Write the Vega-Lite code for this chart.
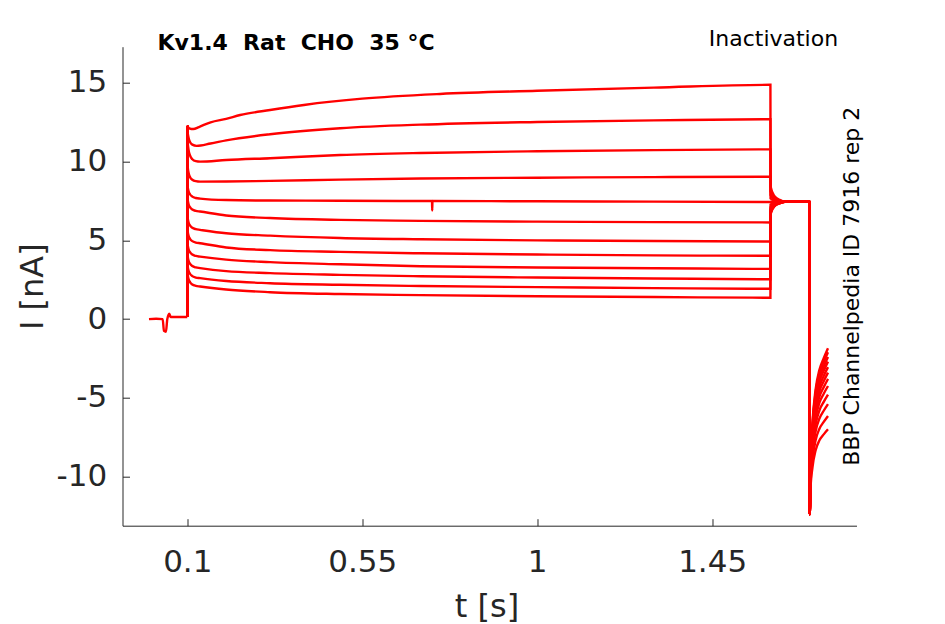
{
  "$schema": "https://vega.github.io/schema/vega-lite/v6.json",
  "width": 734, "height": 479,
  "autosize": "none",
  "padding": {"left": 122.5, "top": 46.7, "right": 88.3, "bottom": 98},
  "background": "white",
  "config": {"view": {"stroke": null}, "font": "DejaVu Sans", "axis": {"grid": false}},
  "title": {"text": "Kv1.4\u00a0 Rat\u00a0 CHO\u00a0 35 °C", "anchor": "start", "frame": "group", "dx": 35, "offset": -43.7, "baseline": "alphabetic", "fontSize": 22, "fontWeight": "bold", "font": "DejaVu Sans", "color": "#000000"},
  "data": {"values": [
    {"s":0,"t":0.0015,"I":0},{"s":0,"t":0.02,"I":0.02},{"s":0,"t":0.0367,"I":0},{"s":0,"t":0.04,"I":-0.75},{"s":0,"t":0.0451,"I":-0.8},{"s":0,"t":0.0486,"I":0},{"s":0,"t":0.0537,"I":0.35},{"s":0,"t":0.0573,"I":0.13},{"s":0,"t":0.0999,"I":0.13},

    {"s":1,"t":0.0999,"I":0.13},{"s":1,"t":0.1003,"I":12.22},{"s":1,"t":0.105,"I":12.12},{"s":1,"t":0.1155,"I":12.07},{"s":1,"t":0.13,"I":12.2},{"s":1,"t":0.16,"I":12.5},{"s":1,"t":0.2,"I":12.72},{"s":1,"t":0.236,"I":12.96},{"s":1,"t":0.313,"I":13.28},{"s":1,"t":0.4,"I":13.6},{"s":1,"t":0.55,"I":14.0},{"s":1,"t":0.75,"I":14.3},{"s":1,"t":1.0,"I":14.5},{"s":1,"t":1.3,"I":14.7},{"s":1,"t":1.5999,"I":14.88},
    {"s":1,"t":1.6003,"I":8.42},{"s":1,"t":1.61,"I":7.82},{"s":1,"t":1.625,"I":7.56},{"s":1,"t":1.637,"I":7.45},{"s":1,"t":1.7008,"I":7.45},{"s":1,"t":1.7013,"I":-12.4},{"s":1,"t":1.703,"I":-9.24},{"s":1,"t":1.708,"I":-6.6},{"s":1,"t":1.716,"I":-4.49},{"s":1,"t":1.726,"I":-3.22},{"s":1,"t":1.737,"I":-2.48},{"s":1,"t":1.748,"I":-1.85},

    {"s":2,"t":0.0999,"I":0.13},{"s":2,"t":0.1003,"I":12.22},{"s":2,"t":0.101,"I":11.9},{"s":2,"t":0.103,"I":11.55},{"s":2,"t":0.107,"I":11.25},{"s":2,"t":0.113,"I":11.08},{"s":2,"t":0.124,"I":11.0},{"s":2,"t":0.16,"I":11.15},{"s":2,"t":0.2,"I":11.35},{"s":2,"t":0.313,"I":11.74},{"s":2,"t":0.493,"I":12.12},{"s":2,"t":0.7,"I":12.35},{"s":2,"t":1.0,"I":12.52},{"s":2,"t":1.3,"I":12.62},{"s":2,"t":1.5999,"I":12.69},
    {"s":2,"t":1.6003,"I":8.13},{"s":2,"t":1.61,"I":7.71},{"s":2,"t":1.625,"I":7.53},{"s":2,"t":1.637,"I":7.45},{"s":2,"t":1.7008,"I":7.45},{"s":2,"t":1.7013,"I":-12.4},{"s":2,"t":1.703,"I":-9.31},{"s":2,"t":1.708,"I":-6.74},{"s":2,"t":1.716,"I":-4.68},{"s":2,"t":1.726,"I":-3.44},{"s":2,"t":1.737,"I":-2.72},{"s":2,"t":1.748,"I":-2.1},

    {"s":3,"t":0.0999,"I":0.13},{"s":3,"t":0.1003,"I":12.22},{"s":3,"t":0.101,"I":11.3},{"s":3,"t":0.103,"I":10.8},{"s":3,"t":0.107,"I":10.4},{"s":3,"t":0.113,"I":10.15},{"s":3,"t":0.122,"I":10.03},{"s":3,"t":0.133,"I":10.0},{"s":3,"t":0.2,"I":10.1},{"s":3,"t":0.313,"I":10.22},{"s":3,"t":0.493,"I":10.42},{"s":3,"t":0.7,"I":10.55},{"s":3,"t":1.0,"I":10.66},{"s":3,"t":1.3,"I":10.73},{"s":3,"t":1.5999,"I":10.78},
    {"s":3,"t":1.6003,"I":7.88},{"s":3,"t":1.61,"I":7.62},{"s":3,"t":1.625,"I":7.5},{"s":3,"t":1.637,"I":7.45},{"s":3,"t":1.7008,"I":7.45},{"s":3,"t":1.7013,"I":-12.4},{"s":3,"t":1.703,"I":-9.4},{"s":3,"t":1.708,"I":-6.9},{"s":3,"t":1.716,"I":-4.9},{"s":3,"t":1.726,"I":-3.7},{"s":3,"t":1.737,"I":-3.0},{"s":3,"t":1.748,"I":-2.4},

    {"s":4,"t":0.0999,"I":0.13},{"s":4,"t":0.1003,"I":12.22},{"s":4,"t":0.101,"I":9.73},{"s":4,"t":0.103,"I":9.33},{"s":4,"t":0.107,"I":9.03},{"s":4,"t":0.113,"I":8.85},{"s":4,"t":0.122,"I":8.76},{"s":4,"t":0.133,"I":8.73},{"s":4,"t":0.2,"I":8.74},{"s":4,"t":0.313,"I":8.78},{"s":4,"t":0.493,"I":8.86},{"s":4,"t":0.7,"I":8.93},{"s":4,"t":1.0,"I":8.98},{"s":4,"t":1.3,"I":9.02},{"s":4,"t":1.5999,"I":9.04},
    {"s":4,"t":1.6003,"I":7.66},{"s":4,"t":1.61,"I":7.53},{"s":4,"t":1.625,"I":7.47},{"s":4,"t":1.637,"I":7.45},{"s":4,"t":1.7008,"I":7.45},{"s":4,"t":1.7013,"I":-12.4},{"s":4,"t":1.703,"I":-9.49},{"s":4,"t":1.708,"I":-7.07},{"s":4,"t":1.716,"I":-5.13},{"s":4,"t":1.726,"I":-3.96},{"s":4,"t":1.737,"I":-3.28},{"s":4,"t":1.748,"I":-2.7},

    {"s":5,"t":0.0999,"I":0.13},{"s":5,"t":0.1003,"I":12.22},{"s":5,"t":0.101,"I":8.45},{"s":5,"t":0.103,"I":8.15},{"s":5,"t":0.107,"I":7.93},{"s":5,"t":0.113,"I":7.78},{"s":5,"t":0.122,"I":7.69},{"s":5,"t":0.133,"I":7.65},{"s":5,"t":0.2,"I":7.56},{"s":5,"t":0.313,"I":7.53},{"s":5,"t":0.493,"I":7.52},{"s":5,"t":0.7,"I":7.5},{"s":5,"t":0.7295,"I":7.5},{"s":5,"t":0.73,"I":6.9},{"s":5,"t":0.7306,"I":7.5},{"s":5,"t":1.0,"I":7.48},{"s":5,"t":1.3,"I":7.46},{"s":5,"t":1.5999,"I":7.44},
    {"s":5,"t":1.6003,"I":7.45},{"s":5,"t":1.61,"I":7.45},{"s":5,"t":1.625,"I":7.45},{"s":5,"t":1.637,"I":7.45},{"s":5,"t":1.7008,"I":7.45},{"s":5,"t":1.7013,"I":-12.4},{"s":5,"t":1.703,"I":-9.6},{"s":5,"t":1.708,"I":-7.26},{"s":5,"t":1.716,"I":-5.39},{"s":5,"t":1.726,"I":-4.27},{"s":5,"t":1.737,"I":-3.61},{"s":5,"t":1.748,"I":-3.05},

    {"s":6,"t":0.0999,"I":0.13},{"s":6,"t":0.1003,"I":12.22},{"s":6,"t":0.101,"I":7.63},{"s":6,"t":0.103,"I":7.33},{"s":6,"t":0.107,"I":7.11},{"s":6,"t":0.113,"I":6.96},{"s":6,"t":0.122,"I":6.87},{"s":6,"t":0.133,"I":6.83},{"s":6,"t":0.2,"I":6.58},{"s":6,"t":0.313,"I":6.42},{"s":6,"t":0.493,"I":6.3},{"s":6,"t":0.7,"I":6.24},{"s":6,"t":1.0,"I":6.19},{"s":6,"t":1.3,"I":6.16},{"s":6,"t":1.5999,"I":6.14},
    {"s":6,"t":1.6003,"I":7.28},{"s":6,"t":1.61,"I":7.38},{"s":6,"t":1.625,"I":7.43},{"s":6,"t":1.637,"I":7.45},{"s":6,"t":1.7008,"I":7.45},{"s":6,"t":1.7013,"I":-12.4},{"s":6,"t":1.703,"I":-9.7},{"s":6,"t":1.708,"I":-7.45},{"s":6,"t":1.716,"I":-5.65},{"s":6,"t":1.726,"I":-4.57},{"s":6,"t":1.737,"I":-3.94},{"s":6,"t":1.748,"I":-3.4},

    {"s":7,"t":0.0999,"I":0.13},{"s":7,"t":0.1003,"I":12.22},{"s":7,"t":0.101,"I":6.47},{"s":7,"t":0.103,"I":6.17},{"s":7,"t":0.107,"I":5.95},{"s":7,"t":0.113,"I":5.8},{"s":7,"t":0.122,"I":5.71},{"s":7,"t":0.133,"I":5.67},{"s":7,"t":0.2,"I":5.45},{"s":7,"t":0.313,"I":5.3},{"s":7,"t":0.493,"I":5.15},{"s":7,"t":0.7,"I":5.07},{"s":7,"t":1.0,"I":5.0},{"s":7,"t":1.3,"I":4.96},{"s":7,"t":1.5999,"I":4.93},
    {"s":7,"t":1.6003,"I":7.12},{"s":7,"t":1.61,"I":7.32},{"s":7,"t":1.625,"I":7.41},{"s":7,"t":1.637,"I":7.45},{"s":7,"t":1.7008,"I":7.45},{"s":7,"t":1.7013,"I":-12.4},{"s":7,"t":1.703,"I":-9.82},{"s":7,"t":1.708,"I":-7.67},{"s":7,"t":1.716,"I":-5.95},{"s":7,"t":1.726,"I":-4.92},{"s":7,"t":1.737,"I":-4.32},{"s":7,"t":1.748,"I":-3.8},

    {"s":8,"t":0.0999,"I":0.13},{"s":8,"t":0.1003,"I":12.22},{"s":8,"t":0.101,"I":5.62},{"s":8,"t":0.103,"I":5.32},{"s":8,"t":0.107,"I":5.1},{"s":8,"t":0.113,"I":4.95},{"s":8,"t":0.122,"I":4.86},{"s":8,"t":0.133,"I":4.82},{"s":8,"t":0.2,"I":4.55},{"s":8,"t":0.313,"I":4.38},{"s":8,"t":0.493,"I":4.27},{"s":8,"t":0.7,"I":4.18},{"s":8,"t":1.0,"I":4.1},{"s":8,"t":1.3,"I":4.05},{"s":8,"t":1.5999,"I":4.02},
    {"s":8,"t":1.6003,"I":7.0},{"s":8,"t":1.61,"I":7.28},{"s":8,"t":1.625,"I":7.4},{"s":8,"t":1.637,"I":7.45},{"s":8,"t":1.7008,"I":7.45},{"s":8,"t":1.7013,"I":-12.4},{"s":8,"t":1.703,"I":-9.96},{"s":8,"t":1.708,"I":-7.92},{"s":8,"t":1.716,"I":-6.29},{"s":8,"t":1.726,"I":-5.31},{"s":8,"t":1.737,"I":-4.74},{"s":8,"t":1.748,"I":-4.25},

    {"s":9,"t":0.0999,"I":0.13},{"s":9,"t":0.1003,"I":12.22},{"s":9,"t":0.101,"I":4.77},{"s":9,"t":0.103,"I":4.47},{"s":9,"t":0.107,"I":4.25},{"s":9,"t":0.113,"I":4.1},{"s":9,"t":0.122,"I":4.01},{"s":9,"t":0.133,"I":3.97},{"s":9,"t":0.2,"I":3.78},{"s":9,"t":0.313,"I":3.62},{"s":9,"t":0.493,"I":3.48},{"s":9,"t":0.7,"I":3.36},{"s":9,"t":1.0,"I":3.28},{"s":9,"t":1.3,"I":3.23},{"s":9,"t":1.5999,"I":3.19},
    {"s":9,"t":1.6003,"I":6.9},{"s":9,"t":1.61,"I":7.24},{"s":9,"t":1.625,"I":7.39},{"s":9,"t":1.637,"I":7.45},{"s":9,"t":1.7008,"I":7.45},{"s":9,"t":1.7013,"I":-12.4},{"s":9,"t":1.703,"I":-10.12},{"s":9,"t":1.708,"I":-8.22},{"s":9,"t":1.716,"I":-6.7},{"s":9,"t":1.726,"I":-5.79},{"s":9,"t":1.737,"I":-5.26},{"s":9,"t":1.748,"I":-4.8},

    {"s":10,"t":0.0999,"I":0.13},{"s":10,"t":0.1003,"I":12.22},{"s":10,"t":0.101,"I":4.04},{"s":10,"t":0.103,"I":3.74},{"s":10,"t":0.107,"I":3.52},{"s":10,"t":0.113,"I":3.37},{"s":10,"t":0.122,"I":3.28},{"s":10,"t":0.133,"I":3.24},{"s":10,"t":0.2,"I":3.05},{"s":10,"t":0.313,"I":2.92},{"s":10,"t":0.493,"I":2.81},{"s":10,"t":0.7,"I":2.72},{"s":10,"t":1.0,"I":2.64},{"s":10,"t":1.3,"I":2.58},{"s":10,"t":1.5999,"I":2.53},
    {"s":10,"t":1.6003,"I":6.81},{"s":10,"t":1.61,"I":7.2},{"s":10,"t":1.625,"I":7.38},{"s":10,"t":1.637,"I":7.45},{"s":10,"t":1.7008,"I":7.45},{"s":10,"t":1.7013,"I":-12.4},{"s":10,"t":1.703,"I":-10.3},{"s":10,"t":1.708,"I":-8.55},{"s":10,"t":1.716,"I":-7.15},{"s":10,"t":1.726,"I":-6.31},{"s":10,"t":1.737,"I":-5.82},{"s":10,"t":1.748,"I":-5.4},

    {"s":11,"t":0.0999,"I":0.13},{"s":11,"t":0.1003,"I":12.22},{"s":11,"t":0.101,"I":3.4},{"s":11,"t":0.103,"I":3.1},{"s":11,"t":0.107,"I":2.88},{"s":11,"t":0.113,"I":2.73},{"s":11,"t":0.122,"I":2.64},{"s":11,"t":0.133,"I":2.6},{"s":11,"t":0.2,"I":2.42},{"s":11,"t":0.313,"I":2.28},{"s":11,"t":0.493,"I":2.18},{"s":11,"t":0.7,"I":2.1},{"s":11,"t":1.0,"I":2.03},{"s":11,"t":1.3,"I":1.97},{"s":11,"t":1.5999,"I":1.93},
    {"s":11,"t":1.6003,"I":6.73},{"s":11,"t":1.61,"I":7.17},{"s":11,"t":1.625,"I":7.37},{"s":11,"t":1.637,"I":7.45},{"s":11,"t":1.7008,"I":7.45},{"s":11,"t":1.7013,"I":-12.4},{"s":11,"t":1.703,"I":-10.53},{"s":11,"t":1.708,"I":-8.96},{"s":11,"t":1.716,"I":-7.71},{"s":11,"t":1.726,"I":-6.96},{"s":11,"t":1.737,"I":-6.53},{"s":11,"t":1.748,"I":-6.15},

    {"s":12,"t":0.0999,"I":0.13},{"s":12,"t":0.1003,"I":12.22},{"s":12,"t":0.101,"I":2.87},{"s":12,"t":0.103,"I":2.57},{"s":12,"t":0.107,"I":2.35},{"s":12,"t":0.113,"I":2.2},{"s":12,"t":0.122,"I":2.11},{"s":12,"t":0.133,"I":2.07},{"s":12,"t":0.2,"I":1.88},{"s":12,"t":0.313,"I":1.71},{"s":12,"t":0.493,"I":1.59},{"s":12,"t":0.7,"I":1.52},{"s":12,"t":1.0,"I":1.45},{"s":12,"t":1.3,"I":1.4},{"s":12,"t":1.5999,"I":1.36},
    {"s":12,"t":1.6003,"I":6.66},{"s":12,"t":1.61,"I":7.15},{"s":12,"t":1.625,"I":7.36},{"s":12,"t":1.637,"I":7.45},{"s":12,"t":1.7008,"I":7.45},{"s":12,"t":1.7013,"I":-12.4},{"s":12,"t":1.703,"I":-10.78},{"s":12,"t":1.708,"I":-9.43},{"s":12,"t":1.716,"I":-8.35},{"s":12,"t":1.726,"I":-7.7},{"s":12,"t":1.737,"I":-7.32},{"s":12,"t":1.748,"I":-7.0}
  ]},
  "layer": [
    {
      "mark": {"type": "line", "color": "#ff0000", "strokeWidth": 2.4, "interpolate": "monotone", "clip": true},
      "encoding": {
        "x": {"field": "t", "type": "quantitative",
          "scale": {"domain": [-0.0666, 1.8213], "nice": false, "zero": false},
          "axis": {"orient": "bottom", "values": [0.1, 0.55, 1, 1.45], "labelExpr": "'' + datum.value",
            "labelFontSize": 31, "labelFont": "DejaVu Sans", "labelColor": "#262626", "labelBaseline": "alphabetic", "labelPadding": 53.3,
            "tickSize": -7, "tickColor": "#262626", "domainColor": "#262626", "labelFlush": false,
            "title": "t [s]", "titleFontSize": 32, "titleFont": "DejaVu Sans", "titleFontWeight": "normal", "titleColor": "#262626",
            "titleBaseline": "alphabetic", "titleAlign": "center", "titleX": 364, "titleY": 90.7}},
        "y": {"field": "I", "type": "quantitative",
          "scale": {"domain": [-13.12, 17.3], "nice": false, "zero": false},
          "axis": {"orient": "left", "values": [-10, -5, 0, 5, 10, 15], "labelExpr": "'' + datum.value",
            "labelFontSize": 31, "labelFont": "DejaVu Sans", "labelColor": "#262626", "labelPadding": 22.8,
            "tickSize": -7, "tickColor": "#262626", "domainColor": "#262626", "labelFlush": false,
            "title": "I [nA]", "titleFontSize": 32, "titleFont": "DejaVu Sans", "titleFontWeight": "normal", "titleColor": "#262626",
            "titleBaseline": "alphabetic", "titleAlign": "center", "titleAngle": 270, "titleX": -80.5, "titleY": 239.5}},
        "detail": {"field": "s", "type": "nominal"}
      }
    },
    {
      "transform": [{"filter": "datum.s == 0"}],
      "mark": {"type": "point", "opacity": 0},
      "encoding": {
        "x": {"field": "t", "type": "quantitative",
          "scale": {"domain": [-0.0666, 1.8213], "nice": false, "zero": false},
          "axis": {"orient": "top", "labels": false, "ticks": false, "domain": false,
            "title": "Inactivation", "titleFontSize": 22, "titleFont": "DejaVu Sans", "titleFontWeight": "normal", "titleColor": "#000000",
            "titleBaseline": "alphabetic", "titleAlign": "left", "titleX": 585.8, "titleY": -0.7}},
        "y": {"field": "I", "type": "quantitative",
          "scale": {"domain": [-13.12, 17.3], "nice": false, "zero": false},
          "axis": {"orient": "right", "labels": false, "ticks": false, "domain": false,
            "title": "BBP Channelpedia ID 7916 rep 2", "titleFontSize": 22, "titleFont": "DejaVu Sans", "titleFontWeight": "normal", "titleColor": "#000000",
            "titleBaseline": "alphabetic", "titleAlign": "center", "titleAngle": 270, "titleX": 1.6, "titleY": 239.1}}
      }
    }
  ],
  "resolve": {"axis": {"x": "independent", "y": "independent"}}
}
